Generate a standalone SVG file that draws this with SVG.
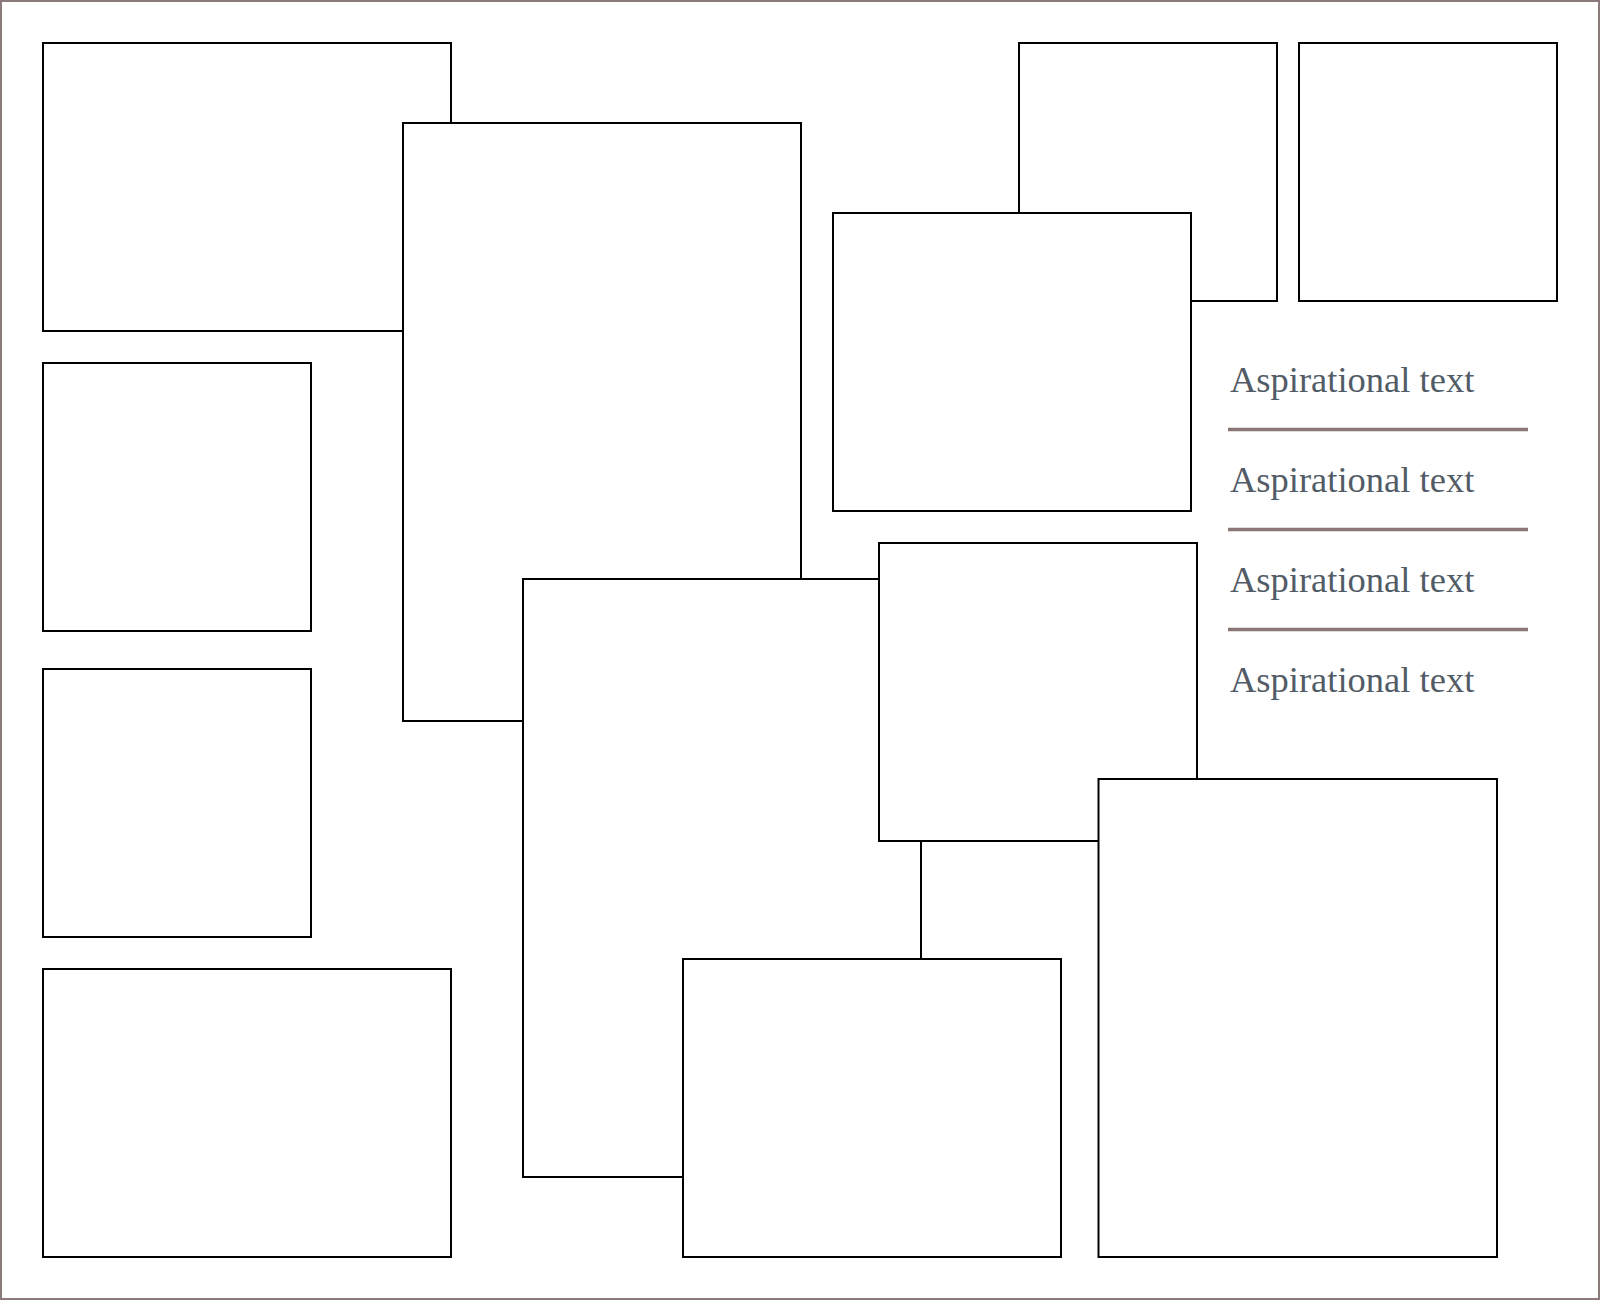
<svg xmlns="http://www.w3.org/2000/svg" width="1600" height="1300" viewBox="0 0 1600 1300">
<style>
.box{fill:#ffffff;stroke:#000000;stroke-width:2}
.rule{stroke:#8b7676;stroke-width:3.5}
.lbl{font-family:"Liberation Serif","DejaVu Serif",serif;font-size:36.5px;fill:#525c66}
</style>
<rect x="1" y="1" width="1598" height="1298" fill="#ffffff" stroke="#8b7b7b" stroke-width="2"/>
<g id="nodes">
<g id="n-a"><rect class="box" x="43" y="43" width="408" height="288"/></g>
<g id="n-b"><rect class="box" x="403" y="123" width="398" height="598"/></g>
<g id="n-c"><rect class="box" x="1019" y="43" width="258" height="258"/></g>
<g id="n-d"><rect class="box" x="1299" y="43" width="258" height="258"/></g>
<g id="n-e"><rect class="box" x="833" y="213" width="358" height="298"/></g>
<g id="n-f"><rect class="box" x="43" y="363" width="268" height="268"/></g>
<g id="n-g"><rect class="box" x="43" y="669" width="268" height="268"/></g>
<g id="n-h"><rect class="box" x="43" y="969" width="408" height="288"/></g>
<g id="n-i"><rect class="box" x="523" y="579" width="398" height="598"/></g>
<g id="n-j"><rect class="box" x="879" y="543" width="318" height="298"/></g>
<g id="n-k"><rect class="box" x="683" y="959" width="378" height="298"/></g>
<g id="n-l"><rect class="box" x="1098.5" y="779" width="398.5" height="478"/></g>
</g>
<g id="connectors"></g>
<g id="legend">
<text class="lbl" x="1230" y="392">Aspirational text</text>
<line class="rule" x1="1228" y1="429.5" x2="1528" y2="429.5"/>
<text class="lbl" x="1230" y="492">Aspirational text</text>
<line class="rule" x1="1228" y1="529.5" x2="1528" y2="529.5"/>
<text class="lbl" x="1230" y="592">Aspirational text</text>
<line class="rule" x1="1228" y1="629.5" x2="1528" y2="629.5"/>
<text class="lbl" x="1230" y="692">Aspirational text</text>
</g>
</svg>
